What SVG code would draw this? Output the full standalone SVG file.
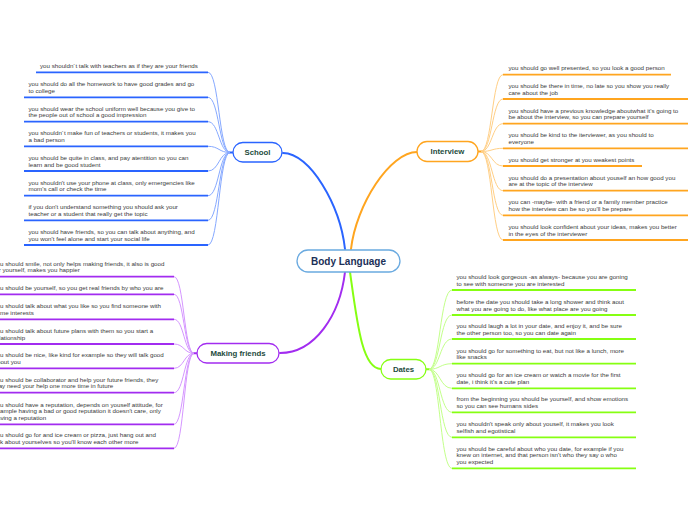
<svg xmlns="http://www.w3.org/2000/svg" width="696" height="520" viewBox="0 0 696 520">
<style>
.bg{fill:#ffffff}
.t{font-family:"Liberation Sans",Arial,sans-serif;font-size:6.2px;fill:#3a3a3a}
.nt{font-family:"Liberation Sans",Arial,sans-serif;font-size:7.8px;font-weight:bold;fill:#1d4b3c;text-anchor:middle}
.ct{font-family:"Liberation Sans",Arial,sans-serif;font-size:10px;font-weight:bold;fill:#1b2f57;text-anchor:middle}
.node{fill:#ffffff;stroke-width:1.3}
.ul{fill:none;stroke-width:1.8}
.main{fill:none;stroke-width:2;stroke-linecap:round}
.thin{fill:none;stroke-width:1}
.blue{stroke:#2a64ff}.blueL{stroke:#86a9ff}
.orange{stroke:#ffa51f}.orangeL{stroke:#ffcf85}
.purple{stroke:#a22cf0}.purpleL{stroke:#d596ff}
.green{stroke:#86ff12}.greenL{stroke:#c3ff8a}
</style>
<rect class="bg" x="0" y="0" width="696" height="520"/>
<g id="connectors">
<path class="main blue" d="M345,249 C340,205 310,153 283,153"/>
<path class="main orange" d="M351,249 C356,205 390,152 417,152"/>
<path class="main purple" d="M345,272 C340,315 315,353 280,353"/>
<path class="main green" d="M350,272 C357,322 362,369 381,369"/>
<path class="main blue" d="M229,152.5 L233,152.5"/>
<path class="main orange" d="M478,151.5 L482,151.5"/>
<path class="main purple" d="M193,353.3 L197,353.3"/>
<path class="main green" d="M426,369.3 L430,369.3"/>
<g class="thin blueL">
<path d="M230,152.5 C219,152.5 219,72.3 208,72.3"/>
<path d="M230,152.5 C219,152.5 219,97.3 208,97.3"/>
<path d="M230,152.5 C219,152.5 219,121.7 208,121.7"/>
<path d="M230,152.5 C219,152.5 219,146.3 208,146.3"/>
<path d="M230,152.5 C219,152.5 219,171 208,171"/>
<path d="M230,152.5 C219,152.5 219,195.7 208,195.7"/>
<path d="M230,152.5 C219,152.5 219,220.3 208,220.3"/>
<path d="M230,152.5 C219,152.5 219,245 208,245"/>
</g>
<g class="thin orangeL">
<path d="M481,151.5 C492,151.5 492,74.7 503,74.7"/>
<path d="M481,151.5 C492,151.5 492,99 503,99"/>
<path d="M481,151.5 C492,151.5 492,123.7 503,123.7"/>
<path d="M481,151.5 C492,151.5 492,148.3 503,148.3"/>
<path d="M481,151.5 C492,151.5 492,166 503,166"/>
<path d="M481,151.5 C492,151.5 492,190.7 503,190.7"/>
<path d="M481,151.5 C492,151.5 492,215.3 503,215.3"/>
<path d="M481,151.5 C492,151.5 492,240 503,240"/>
</g>
<g class="thin purpleL">
<path d="M194,353.3 C184,353.3 184,276.7 174,276.7"/>
<path d="M194,353.3 C184,353.3 184,294.3 174,294.3"/>
<path d="M194,353.3 C184,353.3 184,319.3 174,319.3"/>
<path d="M194,353.3 C184,353.3 184,344 174,344"/>
<path d="M194,353.3 C184,353.3 184,368.3 174,368.3"/>
<path d="M194,353.3 C184,353.3 184,392.7 174,392.7"/>
<path d="M194,353.3 C184,353.3 184,424.3 174,424.3"/>
<path d="M194,353.3 C184,353.3 184,448.3 174,448.3"/>
</g>
<g class="thin greenL">
<path d="M429,369.3 C440,369.3 440,290 452,290"/>
<path d="M429,369.3 C440,369.3 440,315 452,315"/>
<path d="M429,369.3 C440,369.3 440,339 452,339"/>
<path d="M429,369.3 C440,369.3 440,363.7 452,363.7"/>
<path d="M429,369.3 C440,369.3 440,388.3 452,388.3"/>
<path d="M429,369.3 C440,369.3 440,412.3 452,412.3"/>
<path d="M429,369.3 C440,369.3 440,437.3 452,437.3"/>
<path d="M429,369.3 C440,369.3 440,468.3 452,468.3"/>
</g>
</g>
<g id="body-language">
<rect class="node" x="297" y="250" width="103" height="22" rx="11" stroke="#6aaae0" stroke-width="1.6"/>
<text class="ct" x="348.5" y="264.6">Body Language</text>
</g>
<g id="school">
<rect class="node blue" x="233" y="142.5" width="49" height="19.5" rx="9.75"/>
<text class="nt" x="257.5" y="155.2">School</text>
</g>
<g id="interview">
<rect class="node orange" x="417" y="141.5" width="61" height="20" rx="10"/>
<text class="nt" x="447.5" y="154.4">Interview</text>
</g>
<g id="making-friends">
<rect class="node purple" x="197" y="343.5" width="82" height="19.5" rx="9.75"/>
<text class="nt" x="238" y="356.1">Making friends</text>
</g>
<g id="dates">
<rect class="node green" x="381" y="359.5" width="45" height="19.5" rx="9.75"/>
<text class="nt" x="403.5" y="372.1">Dates</text>
</g>
<g id="school-leaves">
<g id="s1"><path class="ul blue" d="M36,72.3 H208"/><text class="t" x="40" y="68">you shouldn´t talk with teachers as if they are your friends</text></g>
<g id="s2"><path class="ul blue" d="M24,97.3 H208"/><text class="t" x="28.5" y="86.4">you should do all the homework to have good grades and go</text><text class="t" x="28.5" y="93">to college</text></g>
<g id="s3"><path class="ul blue" d="M24,121.7 H208"/><text class="t" x="28.5" y="110.8">you should wear the school uniform well because you give to</text><text class="t" x="28.5" y="117.4">the people out of school a good impression</text></g>
<g id="s4"><path class="ul blue" d="M24,146.3 H208"/><text class="t" x="28.5" y="135.4">you shouldn´t make fun of teachers or students, it makes you</text><text class="t" x="28.5" y="142">a bad person</text></g>
<g id="s5"><path class="ul blue" d="M24,171 H208"/><text class="t" x="28.5" y="160.1">you should be quite in class, and pay atentition so you can</text><text class="t" x="28.5" y="166.7">learn and be good student</text></g>
<g id="s6"><path class="ul blue" d="M24,195.7 H208"/><text class="t" x="28.5" y="184.8">you shouldn't use your phone at class, only emergencies like</text><text class="t" x="28.5" y="191.4">mom's call or check the time</text></g>
<g id="s7"><path class="ul blue" d="M24,220.3 H208"/><text class="t" x="28.5" y="209.4">if you don't understand something you should ask your</text><text class="t" x="28.5" y="216">teacher or a student that really get the topic</text></g>
<g id="s8"><path class="ul blue" d="M24,245 H208"/><text class="t" x="28.5" y="234.1">you should have friends, so you can talk about anything, and</text><text class="t" x="28.5" y="240.7">you won't feel alone and start your social life</text></g>
</g>
<g id="interview-leaves">
<g id="i1"><path class="ul orange" d="M503,74.7 H671"/><text class="t" x="508.5" y="70.4">you should go well presented, so you look a good person</text></g>
<g id="i2"><path class="ul orange" d="M503,99 H688"/><text class="t" x="508.5" y="88.1">you should be there in time, no late so you show you really</text><text class="t" x="508.5" y="94.7">care about the job</text></g>
<g id="i3"><path class="ul orange" d="M503,123.7 H688"/><text class="t" x="508.5" y="112.8">you should have a previous knowledge aboutwhat it's going to</text><text class="t" x="508.5" y="119.4">be about the interview, so you can prepare yourself</text></g>
<g id="i4"><path class="ul orange" d="M503,148.3 H688"/><text class="t" x="508.5" y="137.4">you should be kind to the iterviewer, as you should to</text><text class="t" x="508.5" y="144">everyone</text></g>
<g id="i5"><path class="ul orange" d="M503,166 H642"/><text class="t" x="508.5" y="161.7">you should get stronger at you weakest points</text></g>
<g id="i6"><path class="ul orange" d="M503,190.7 H688"/><text class="t" x="508.5" y="179.8">you should do a presentation about youself an how good you</text><text class="t" x="508.5" y="186.4">are at the topic of the interview</text></g>
<g id="i7"><path class="ul orange" d="M503,215.3 H688"/><text class="t" x="508.5" y="204.4">you can -maybe- with a friend or a family member practice</text><text class="t" x="508.5" y="211">how the interview can be so you'll be prepare</text></g>
<g id="i8"><path class="ul orange" d="M503,240 H688"/><text class="t" x="508.5" y="229.1">you should look confident about your ideas, makes you better</text><text class="t" x="508.5" y="235.7">in the eyes of the interviewer</text></g>
</g>
<g id="friends-leaves">
<g id="f1"><path class="ul purple" d="M-12,276.7 H174"/><text class="t" x="-6.5" y="265.8">you should smile, not only helps making friends, it also is good</text><text class="t" x="-6.5" y="272.4">for yourself, makes you happier</text></g>
<g id="f2"><path class="ul purple" d="M-12,294.3 H174"/><text class="t" x="-6.5" y="290">you should be yourself, so you get real friends by who you are</text></g>
<g id="f3"><path class="ul purple" d="M-12,319.3 H174"/><text class="t" x="-6.5" y="308.4">you should talk about what you like so you find someone with</text><text class="t" x="-6.5" y="315">same interests</text></g>
<g id="f4"><path class="ul purple" d="M-12,344 H174"/><text class="t" x="-6.5" y="333.1">you should talk about future plans with them so you start a</text><text class="t" x="-6.5" y="339.7">relationship</text></g>
<g id="f5"><path class="ul purple" d="M-12,368.3 H174"/><text class="t" x="-6.5" y="357.4">you should be nice, like kind for example so they will talk good</text><text class="t" x="-6.5" y="364">about you</text></g>
<g id="f6"><path class="ul purple" d="M-12,392.7 H174"/><text class="t" x="-6.5" y="381.8">you should be collaborator and help your future friends, they</text><text class="t" x="-6.5" y="388.4">may need your help one more time in future</text></g>
<g id="f7"><path class="ul purple" d="M-12,424.3 H174"/><text class="t" x="-6.5" y="406.8">you should have a reputation, depends on youself attitude, for</text><text class="t" x="-6.5" y="413.4">example having a bad or good reputation it doesn't care, only</text><text class="t" x="-6.5" y="420">having a reputation</text></g>
<g id="f8"><path class="ul purple" d="M-12,448.3 H174"/><text class="t" x="-6.5" y="437.4">you should go for and ice cream or pizza, just hang out and</text><text class="t" x="-6.5" y="444">talk about yourselves so you'll know each other more</text></g>
</g>
<g id="dates-leaves">
<g id="d1"><path class="ul green" d="M452,290 H636"/><text class="t" x="456.5" y="279.1">you should look gorgeous -as always- because you are goning</text><text class="t" x="456.5" y="285.7">to see with someone you are interested</text></g>
<g id="d2"><path class="ul green" d="M452,315 H636"/><text class="t" x="456.5" y="304.1">before the date you should take a long shower and think aout</text><text class="t" x="456.5" y="310.7">what you are going to do, like what place are you going</text></g>
<g id="d3"><path class="ul green" d="M452,339 H636"/><text class="t" x="456.5" y="328.1">you should laugh a lot in your date, and enjoy it, and be sure</text><text class="t" x="456.5" y="334.7">the other person too, so you can date again</text></g>
<g id="d4"><path class="ul green" d="M452,363.7 H636"/><text class="t" x="456.5" y="352.8">you should go for something to eat, but not like a lunch, more</text><text class="t" x="456.5" y="359.4">like snacks</text></g>
<g id="d5"><path class="ul green" d="M452,388.3 H636"/><text class="t" x="456.5" y="377.4">you should go for an ice cream or watch a movie for the first</text><text class="t" x="456.5" y="384">date, i think it's a cute plan</text></g>
<g id="d6"><path class="ul green" d="M452,412.3 H636"/><text class="t" x="456.5" y="401.4">from the beginning you should be yourself, and show emotions</text><text class="t" x="456.5" y="408">so you can see humans sides</text></g>
<g id="d7"><path class="ul green" d="M452,437.3 H636"/><text class="t" x="456.5" y="426.4">you shouldn't speak only about youself, it makes you look</text><text class="t" x="456.5" y="433">selfish and egotistical</text></g>
<g id="d8"><path class="ul green" d="M452,468.3 H636"/><text class="t" x="456.5" y="450.8">you should be careful about who you date, for example if you</text><text class="t" x="456.5" y="457.4">knew on internet, and that person isn't who they say o who</text><text class="t" x="456.5" y="464">you expected</text></g>
</g>
</svg>
